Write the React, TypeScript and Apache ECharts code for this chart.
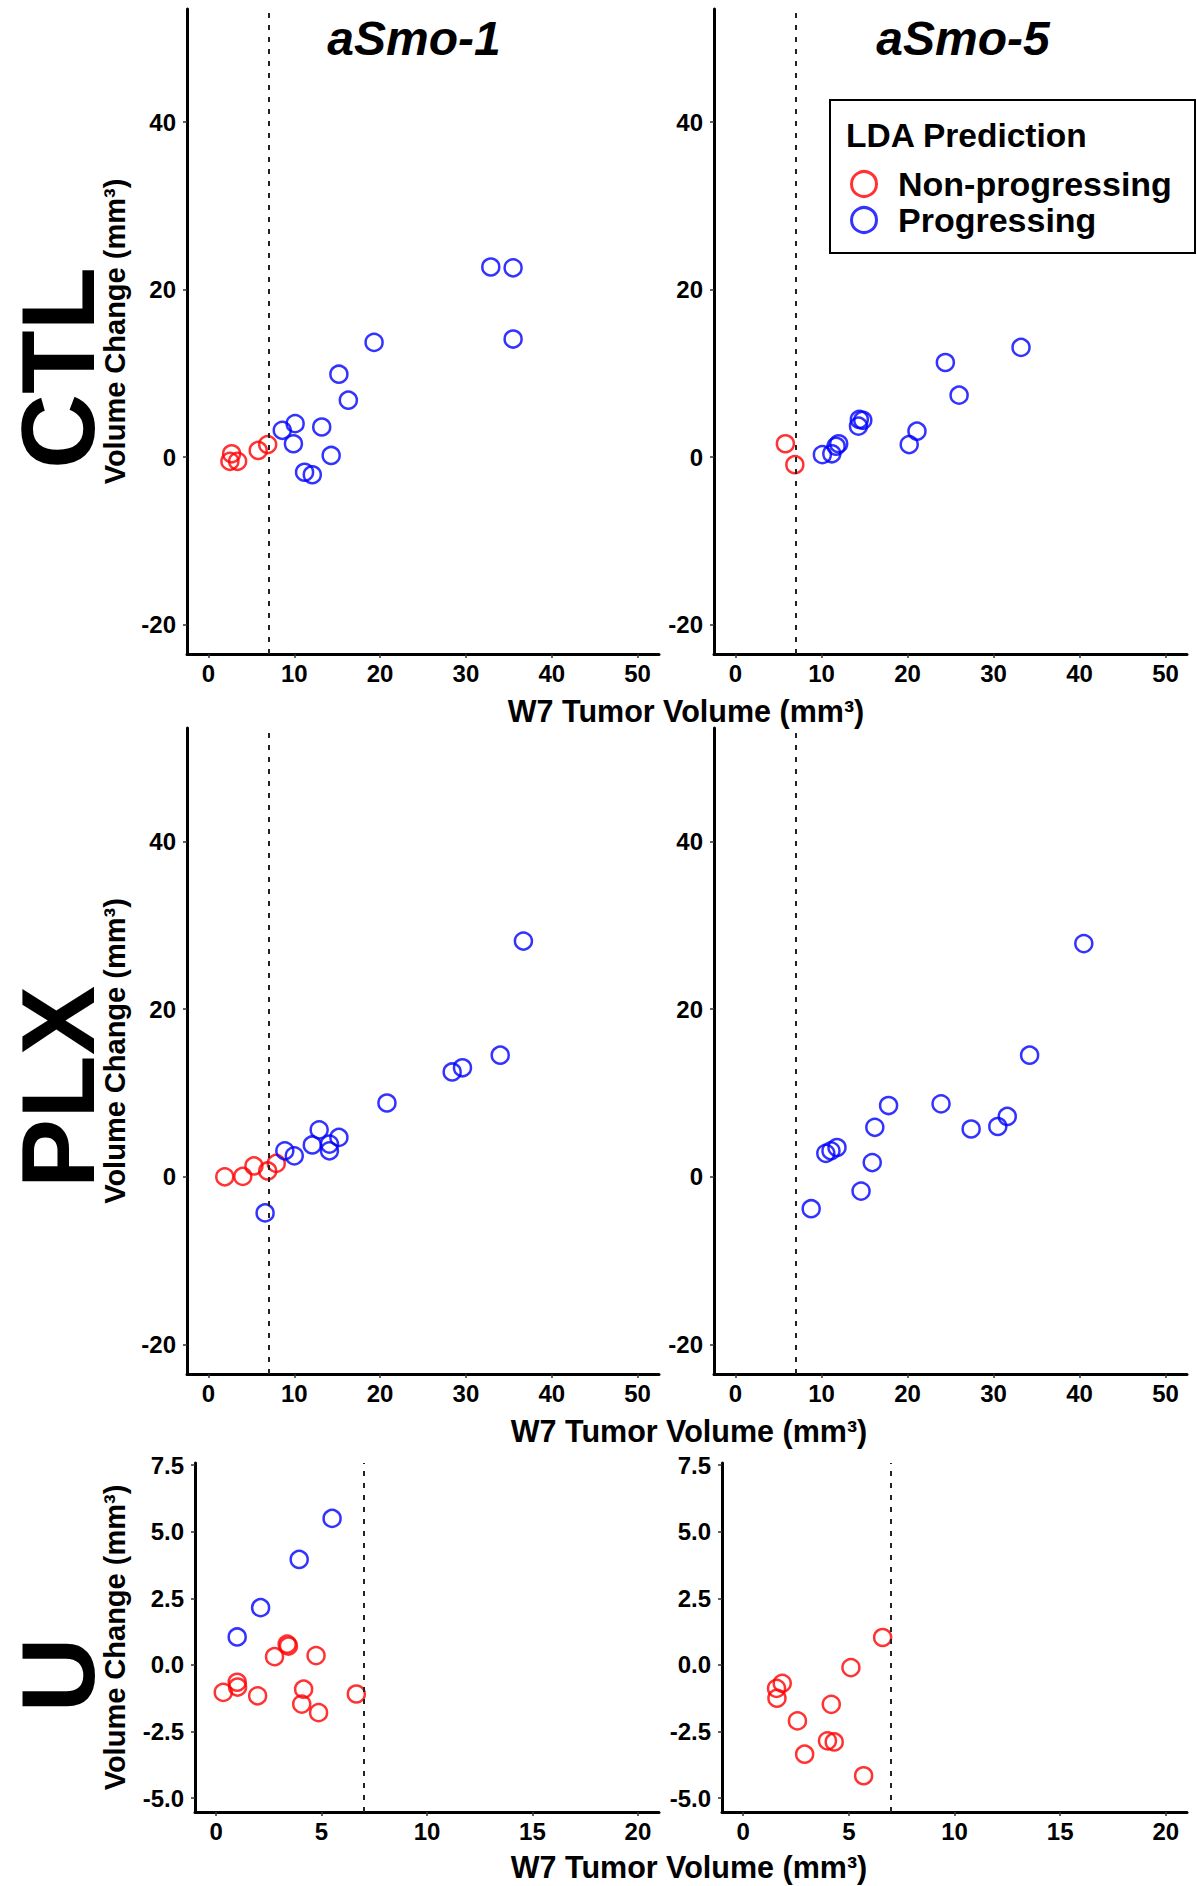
import React, { useEffect, useRef } from "react";
import * as echarts from "echarts";

// ---------- data (W7 tumor volume, volume change) ----------
const ctl1NonProg: number[][] = [[2.7, 0.4], [2.5, -0.5], [3.4, -0.5], [5.8, 0.8], [6.9, 1.5]];
const ctl1Prog: number[][] = [
  [8.6, 3.2], [10.1, 4.0], [9.9, 1.6], [13.2, 3.6], [14.3, 0.2], [11.2, -1.8], [12.1, -2.1],
  [16.3, 6.8], [15.2, 9.9], [19.3, 13.7], [32.9, 22.7], [35.5, 22.6], [35.5, 14.1],
];
const ctl5NonProg: number[][] = [[5.8, 1.6], [6.9, -0.9]];
const ctl5Prog: number[][] = [
  [10.1, 0.3], [11.2, 0.4], [11.7, 1.3], [12.0, 1.6], [14.3, 3.7], [14.4, 4.5], [14.8, 4.4],
  [20.2, 1.5], [21.1, 3.1], [24.4, 11.3], [26.0, 7.4], [33.2, 13.1],
];
const plx1NonProg: number[][] = [[1.9, 0.0], [4.0, 0.05], [5.3, 1.3], [6.9, 0.7], [7.9, 1.6]];
const plx1Prog: number[][] = [
  [6.6, -4.3], [8.9, 3.1], [10.0, 2.5], [12.1, 3.8], [12.9, 5.6], [14.1, 3.9], [14.1, 3.1],
  [15.2, 4.7], [20.8, 8.8], [28.4, 12.5], [29.6, 13.0], [34.0, 14.5], [36.7, 28.1],
];
const plx5NonProg: number[][] = [];
const plx5Prog: number[][] = [
  [8.8, -3.8], [10.5, 2.8], [11.1, 3.1], [11.8, 3.5], [14.6, -1.7], [15.9, 1.7], [16.2, 5.9],
  [17.8, 8.5], [23.9, 8.7], [27.4, 5.7], [30.5, 6.0], [31.6, 7.2], [34.2, 14.5], [40.5, 27.8],
];
const u1NonProg: number[][] = [
  [3.37, 0.78], [3.43, 0.71], [2.77, 0.31], [4.74, 0.35], [1.0, -0.65], [1.02, -0.83],
  [0.34, -1.03], [1.97, -1.16], [4.15, -0.91], [4.06, -1.47], [4.86, -1.79], [6.65, -1.09],
];
const u1Prog: number[][] = [[5.5, 5.5], [3.94, 3.96], [2.11, 2.15], [1.0, 1.05]];
const u5NonProg: number[][] = [
  [6.6, 1.03], [5.1, -0.1], [1.85, -0.69], [1.58, -0.88], [1.6, -1.25], [4.17, -1.48],
  [2.57, -2.1], [3.99, -2.85], [4.31, -2.89], [2.91, -3.35], [5.7, -4.16],
];
const u5Prog: number[][] = [];

const THRESHOLD = 7;

const xTicksMain = [0, 10, 20, 30, 40, 50];
const yTicksMain = [-20, 0, 20, 40];
const xTicksU = [0, 5, 10, 15, 20];
const yTicksU = [-5, -2.5, 0, 2.5, 5, 7.5];

const columnTitles = ["aSmo-1", "aSmo-5"];
const rowTitles = ["CTL", "PLX", "U"];
const seriesNames = ["Non-progressing", "Progressing"];
const legendTitle = "LDA Prediction";
const xTitle = "W7 Tumor Volume (mm\u00b3)";
const yTitle = "Volume Change (mm\u00b3)";

const RED = "#FF0000";
const BLUE = "#0000FF";
const FONT = '"Liberation Sans", Arial, Helvetica, sans-serif';

type Panel = {
  left: number; top: number; width: number; height: number;
  xMin: number; xMax: number; yMin: number; yMax: number;
  xTicks: number[]; yTicks: number[]; yDec: number; showYName: boolean; nameGap: number;
  non: number[][]; prog: number[][];
};

const panels: Panel[] = [
  { left: 187, top: 9, width: 472, height: 645, xMin: -2.5, xMax: 52.5, yMin: -23.5, yMax: 53.5, xTicks: xTicksMain, yTicks: yTicksMain, yDec: 0, showYName: true, nameGap: 58, non: ctl1NonProg, prog: ctl1Prog },
  { left: 714, top: 9, width: 473, height: 645, xMin: -2.5, xMax: 52.5, yMin: -23.5, yMax: 53.5, xTicks: xTicksMain, yTicks: yTicksMain, yDec: 0, showYName: false, nameGap: 58, non: ctl5NonProg, prog: ctl5Prog },
  { left: 187, top: 728, width: 472, height: 646, xMin: -2.5, xMax: 52.5, yMin: -23.5, yMax: 53.5, xTicks: xTicksMain, yTicks: yTicksMain, yDec: 0, showYName: true, nameGap: 58, non: plx1NonProg, prog: plx1Prog },
  { left: 714, top: 728, width: 473, height: 646, xMin: -2.5, xMax: 52.5, yMin: -23.5, yMax: 53.5, xTicks: xTicksMain, yTicks: yTicksMain, yDec: 0, showYName: false, nameGap: 58, non: plx5NonProg, prog: plx5Prog },
  { left: 195, top: 1463, width: 464, height: 349, xMin: -1, xMax: 21, yMin: -5.52, yMax: 7.58, xTicks: xTicksU, yTicks: yTicksU, yDec: 1, showYName: true, nameGap: 66, non: u1NonProg, prog: u1Prog },
  { left: 722, top: 1463, width: 465, height: 349, xMin: -1, xMax: 21, yMin: -5.52, yMax: 7.58, xTicks: xTicksU, yTicks: yTicksU, yDec: 1, showYName: false, nameGap: 66, non: u5NonProg, prog: u5Prog },
];

function buildOption() {
  const grid: any[] = [];
  const xAxis: any[] = [];
  const yAxis: any[] = [];
  const series: any[] = [];
  const labelStyle = { fontSize: 24, fontWeight: "bold", color: "#000", fontFamily: FONT };

  panels.forEach((p, i) => {
    grid.push({ left: p.left, top: p.top, width: p.width, height: p.height, containLabel: false });
    xAxis.push({
      gridIndex: i, type: "value", min: p.xMin, max: p.xMax,
      axisLine: { show: true, onZero: false, lineStyle: { color: "#000", width: 3 } },
      axisTick: { show: true, length: 4, customValues: p.xTicks, lineStyle: { color: "#333", width: 1.5 } },
      axisLabel: { ...labelStyle, margin: 7, customValues: p.xTicks },
      splitLine: { show: false },
    });
    yAxis.push({
      gridIndex: i, type: "value", min: p.yMin, max: p.yMax,
      axisLine: { show: true, onZero: false, lineStyle: { color: "#000", width: 3 } },
      axisTick: { show: true, length: 4, customValues: p.yTicks, lineStyle: { color: "#333", width: 1.5 } },
      axisLabel: { ...labelStyle, margin: 11, customValues: p.yTicks, formatter: (v: number) => v.toFixed(p.yDec) },
      splitLine: { show: false },
      name: p.showYName ? yTitle : "",
      nameLocation: "middle",
      nameRotate: 90,
      nameGap: p.nameGap,
      nameTextStyle: { fontSize: 29, fontWeight: "bold", color: "#000", fontFamily: FONT },
    });
    const mk = {
      silent: true, symbol: "none", animation: false,
      label: { show: false },
      lineStyle: { type: [5, 7], color: "#222", width: 2 },
      data: [{ xAxis: THRESHOLD }],
    };
    series.push({
      name: seriesNames[0], type: "scatter", xAxisIndex: i, yAxisIndex: i,
      data: p.non, symbol: "circle", symbolSize: 17,
      itemStyle: { color: "rgba(0,0,0,0)", borderColor: RED, borderWidth: 2.5 },
      markLine: mk,
    });
    series.push({
      name: seriesNames[1], type: "scatter", xAxisIndex: i, yAxisIndex: i,
      data: p.prog, symbol: "circle", symbolSize: 17,
      itemStyle: { color: "rgba(0,0,0,0)", borderColor: BLUE, borderWidth: 2.5 },
    });
  });

  const txt = (text: string, x: number, y: number, size: number, opts: any = {}) => ({
    type: "text", x, y, rotation: opts.rotation || 0, silent: true,
    style: {
      text, x: 0, y: 0, fill: "#000",
      fontSize: size, fontWeight: "bold", fontStyle: opts.italic ? "italic" : "normal", fontFamily: FONT,
      align: opts.align || "center", verticalAlign: "middle",
      textAlign: opts.align || "center", textVerticalAlign: "middle",
    },
  });

  const graphic: any[] = [
    txt(columnTitles[0], 414, 38, 48, { italic: true }),
    txt(columnTitles[1], 963, 38, 48, { italic: true }),
    txt(rowTitles[0], 58, 368, 104, { rotation: Math.PI / 2 }),
    txt(rowTitles[1], 58, 1087, 104, { rotation: Math.PI / 2 }),
    txt(rowTitles[2], 58, 1675, 104, { rotation: Math.PI / 2 }),
    txt(xTitle, 686, 711, 30.5),
    txt(xTitle, 689, 1431, 30.5),
    txt(xTitle, 689, 1867, 30.5),
    {
      type: "rect", shape: { x: 830, y: 100, width: 365, height: 153 }, silent: true,
      style: { fill: "#fff", stroke: "#000", lineWidth: 2 }, z: -1,
    },
    txt(legendTitle, 846, 135, 33.5, { align: "left" }),
  ];

  return {
    animation: false,
    backgroundColor: "#fff",
    grid, xAxis, yAxis, series, graphic,
    legend: {
      data: seriesNames,
      orient: "vertical",
      left: 850, top: 167,
      padding: 0,
      itemWidth: 58, itemHeight: 25, itemGap: 2,
      icon: "circle",
      itemStyle: { borderWidth: 3 },
      textStyle: { fontSize: 34, fontWeight: "bold", color: "#000", fontFamily: FONT },
      selectedMode: false,
      z: 10,
    },
  };
}

export default function App() {
  const ref = useRef<HTMLDivElement>(null);
  useEffect(() => {
    document.body.style.margin = "0";
    if (!ref.current) return;
    const chart = echarts.init(ref.current, undefined, { renderer: "svg" });
    chart.setOption(buildOption() as any);
    return () => chart.dispose();
  }, []);
  return <div ref={ref} style={{ width: 1197, height: 1886, background: "#fff" }} />;
}
